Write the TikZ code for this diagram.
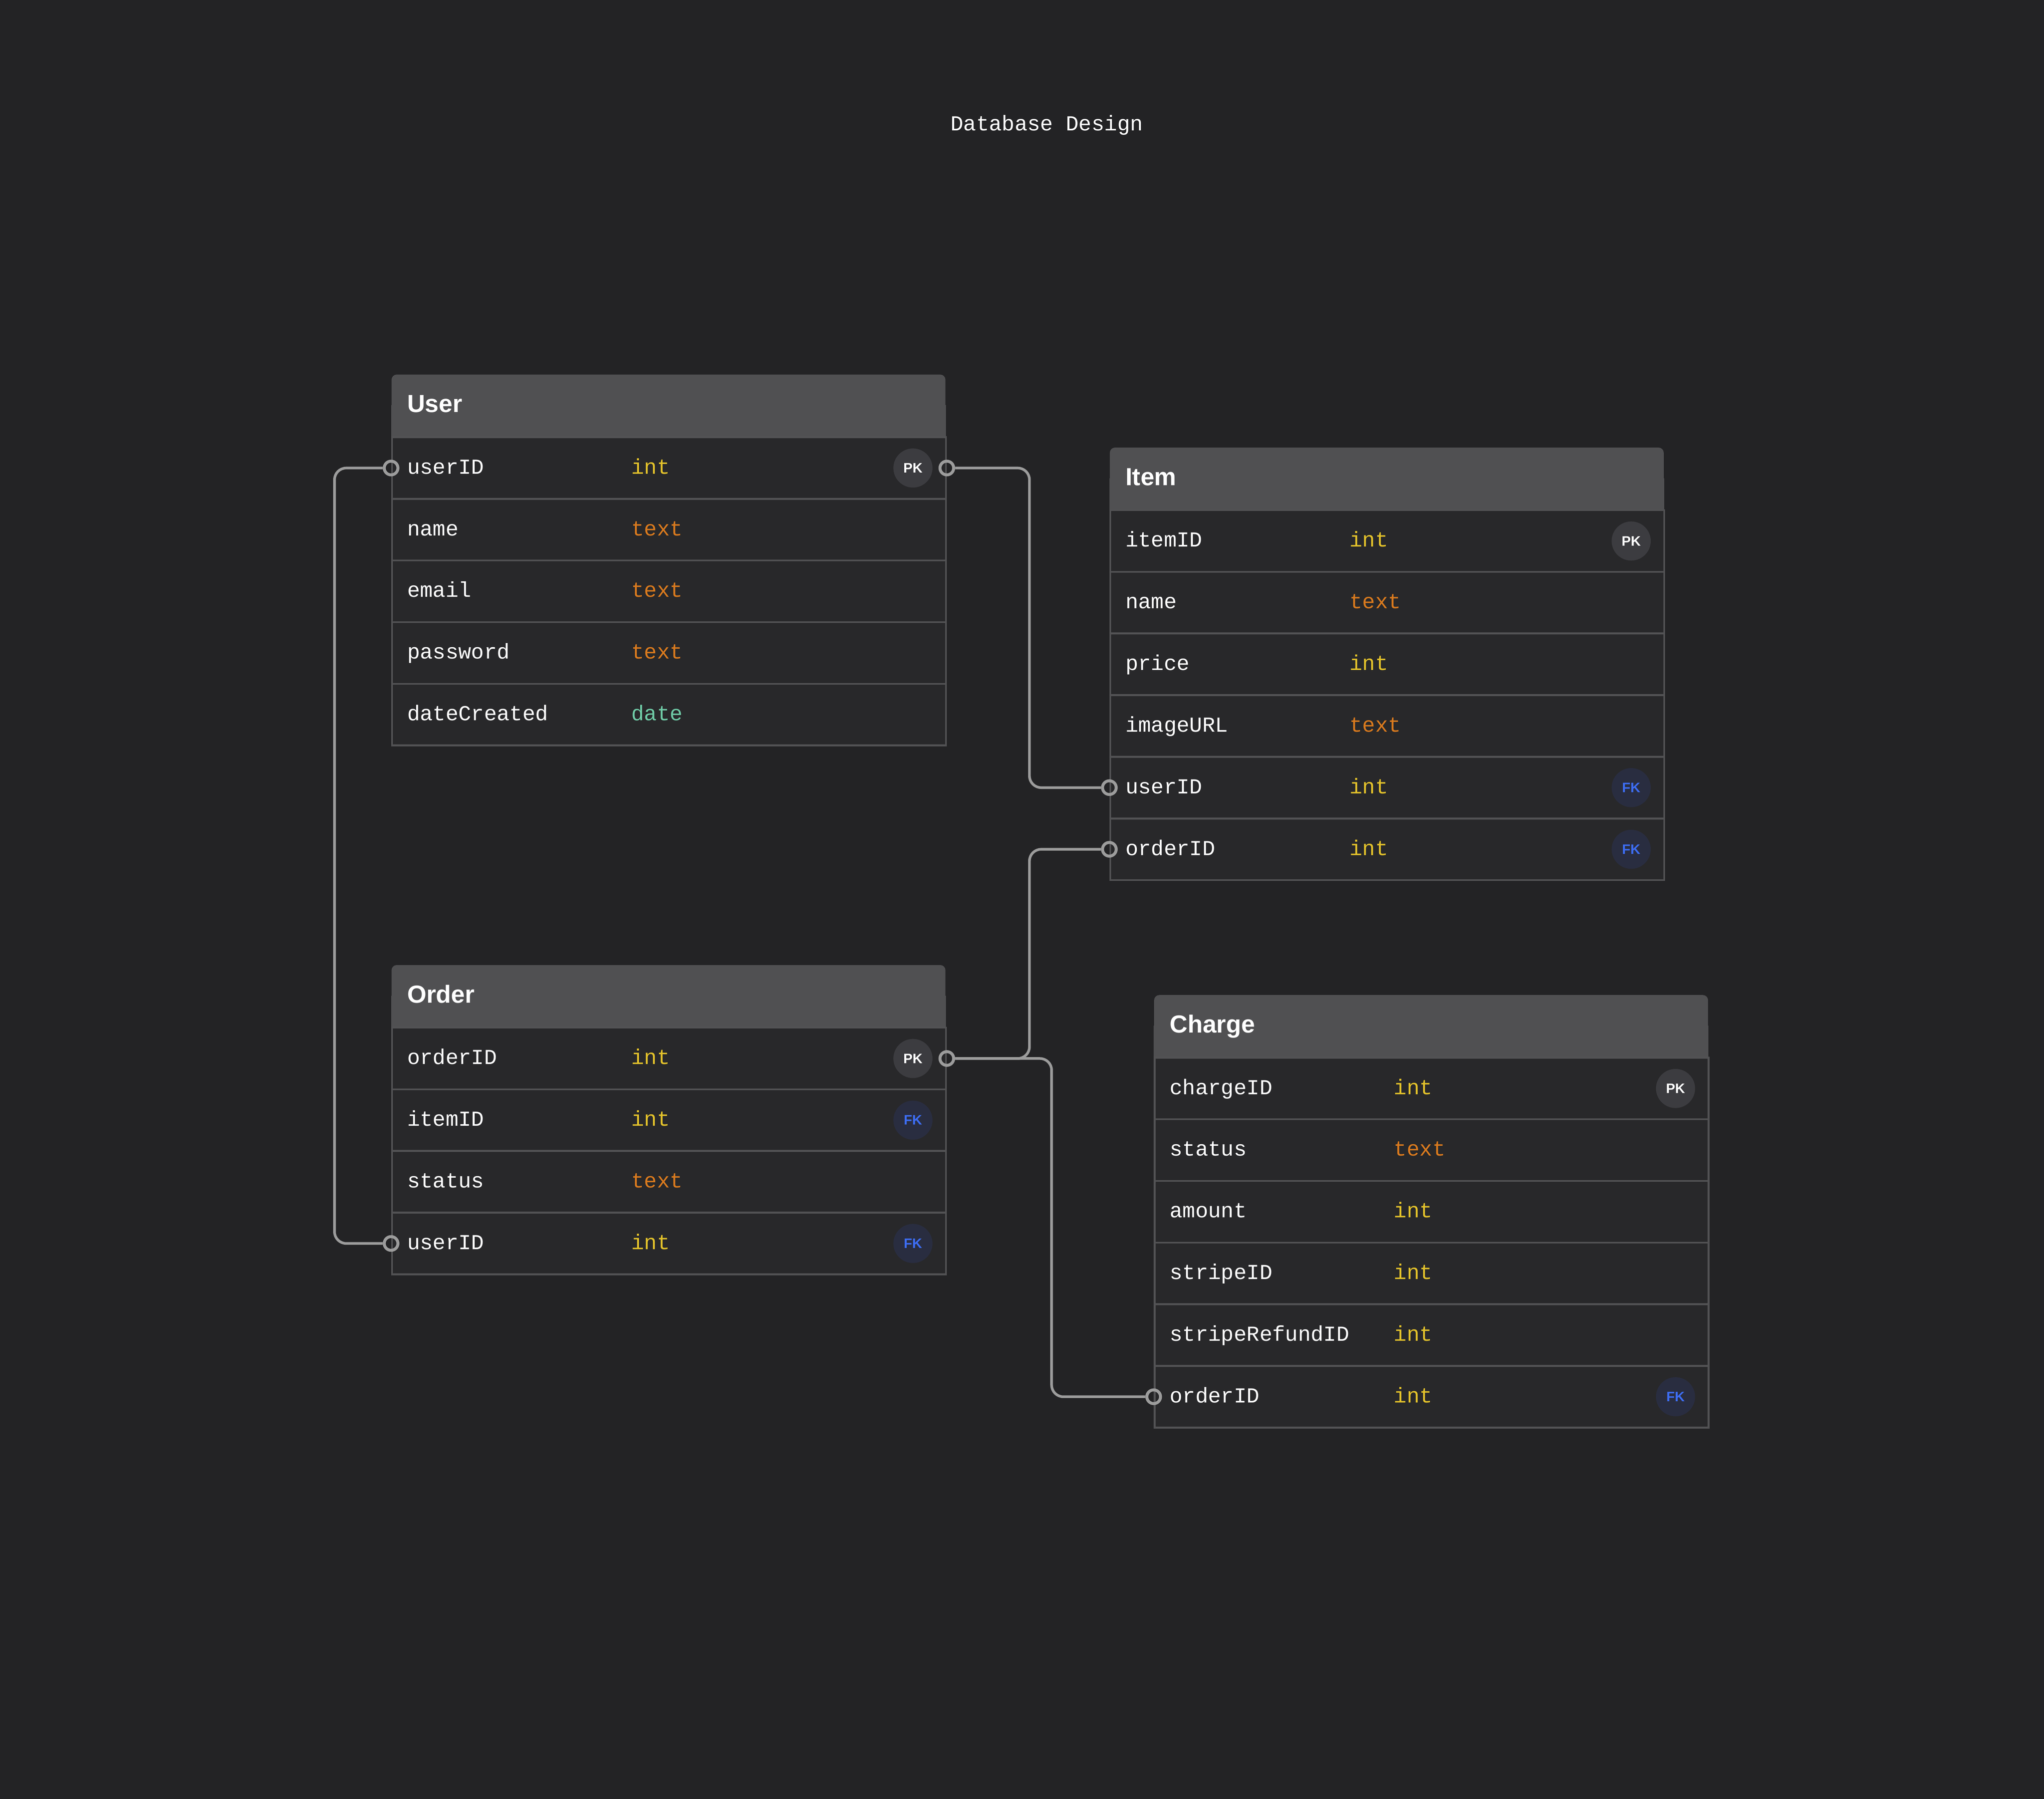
\documentclass[tikz,border=0pt]{standalone}
\usepackage{fontspec}
\setmainfont{Liberation Sans}
\newfontfamily\monof{Liberation Mono}
\usetikzlibrary{calc}
\definecolor{bgc}{HTML}{232325}
\definecolor{rowc}{HTML}{28282A}
\definecolor{hdrc}{HTML}{505052}
\definecolor{bordc}{HTML}{525254}
\definecolor{connc}{HTML}{9C9C9C}
\definecolor{intc}{HTML}{E3C22B}
\definecolor{textc}{HTML}{D97A1E}
\definecolor{datec}{HTML}{6FCAA6}
\definecolor{pkfill}{HTML}{3C3C40}
\definecolor{fkfill}{HTML}{292D40}
\definecolor{fktext}{HTML}{3D6DF2}
\tikzset{
  hdr/.style={fill=hdrc, rounded corners=0.08cm, minimum width=8.5cm, minimum height=0.94cm, inner sep=0pt},
  hdrtxt/.style={text=white, font=\fontsize{10.8}{12}\selectfont\bfseries, inner sep=0pt},
  rowbox/.style={draw=bordc, fill=rowc, line width=0.8pt, minimum width=8.5cm, minimum height=0.946cm, inner sep=0pt},
  fld/.style={text=white, font=\monof\fontsize{9.33}{11}\selectfont, inner sep=0pt},
  pkb/.style={circle, fill=pkfill, minimum size=0.6cm, inner sep=0pt, text=white, font=\fontsize{6}{6}\selectfont\bfseries},
  fkb/.style={circle, fill=fkfill, minimum size=0.6cm, inner sep=0pt, text=fktext, font=\fontsize{6}{6}\selectfont\bfseries},
  endc/.style={circle, draw=connc, line width=1.3pt, minimum size=0.21cm, inner sep=0pt},
  conn/.style={draw=connc, line width=1.15pt, rounded corners=0.18cm},
}
\newcommand\ertable[4]{%
  \node[hdr,anchor=north west] (#1) at (#2) {};
  \fill[hdrc] (#1.west) rectangle (#1.south east);
  \node[hdrtxt,anchor=base west] (#1-title) at ($(#1.west)+(12,5.5)$) {#3};
  \foreach \fname/\ftype/\fcol [count=\i] in {#4} {
    \pgfmathsetmacro\yy{(\i-1)*47.3}
    \node[rowbox,anchor=north west] (#1-\fname) at ($(#1.south west)+(0,\yy)$) {};
    \node[fld,anchor=base west] (#1-\fname-n) at ($(#1-\fname.west)+(12,4.5)$) {\fname};
    \node[fld,text=\fcol,anchor=base west] (#1-\fname-t) at ($(#1-\fname.west)+(184,4.5)$) {\ftype};
  }
}
\begin{document}
\begin{tikzpicture}[x=0.02cm,y=-0.02cm]
\fill[bgc] (0,0) rectangle (1568,1380);
\useasboundingbox (0,0) rectangle (1568,1380);

\node[fld] (title) at (803,96) {Database Design};

\ertable{user}{300,287}{User}{userID/int/intc,name/text/textc,email/text/textc,password/text/textc,dateCreated/date/datec}
\ertable{item}{851,343}{Item}{itemID/int/intc,name/text/textc,price/int/intc,imageURL/text/textc,userID/int/intc,orderID/int/intc}
\ertable{order}{300,740}{Order}{orderID/int/intc,itemID/int/intc,status/text/textc,userID/int/intc}
\ertable{charge}{885,763}{Charge}{chargeID/int/intc,status/text/textc,amount/int/intc,stripeID/int/intc,stripeRefundID/int/intc,orderID/int/intc}

% key badges
\node[pkb] (user-pk) at ($(user-userID.east)+(-26,0)$) {PK};
\node[pkb] (item-pk) at ($(item-itemID.east)+(-26,0)$) {PK};
\node[fkb] (item-fk1) at ($(item-userID.east)+(-26,0)$) {FK};
\node[fkb] (item-fk2) at ($(item-orderID.east)+(-26,0)$) {FK};
\node[pkb] (order-pk) at ($(order-orderID.east)+(-26,0)$) {PK};
\node[fkb] (order-fk1) at ($(order-itemID.east)+(-26,0)$) {FK};
\node[fkb] (order-fk2) at ($(order-userID.east)+(-26,0)$) {FK};
\node[pkb] (charge-pk) at ($(charge-chargeID.east)+(-26,0)$) {PK};
\node[fkb] (charge-fk) at ($(charge-orderID.east)+(-26,0)$) {FK};

% connector ends
\node[endc] (e1) at (user-userID.west) {};
\node[endc] (e2) at (order-userID.west) {};
\node[endc] (e3) at (user-userID.east) {};
\node[endc] (e4) at (order-orderID.east) {};
\node[endc] (e5) at (item-userID.west) {};
\node[endc] (e6) at (item-orderID.west) {};
\node[endc] (e7) at (charge-orderID.west) {};

% connectors
\draw[conn] (e1.west) -- ++(-37,0) |- (e2.west);
\draw[conn] (e3.east) -- ++(57,0) |- (e5.west);
\draw[conn] (e4.east) -- ++(57,0) |- (e6.west);
\draw[conn] (e4.east) -- ++(74,0) |- (e7.west);
\end{tikzpicture}
\end{document}
